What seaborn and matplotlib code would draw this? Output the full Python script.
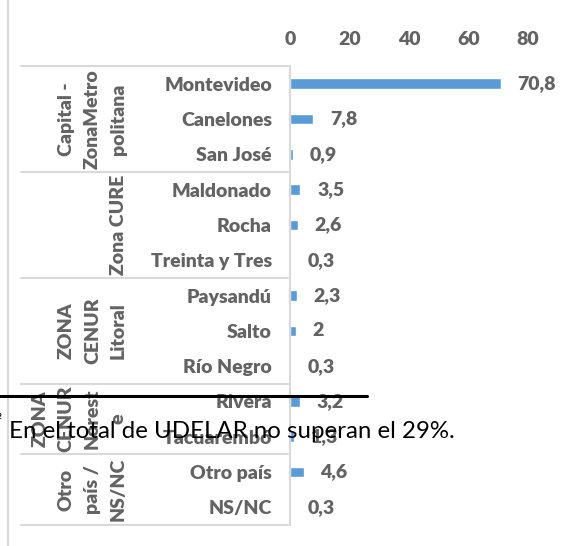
"""
Horizontal bar chart: share of students by department / zone (percent).
Recreated from an Excel chart screenshot with a footnote overlapping it.
"""

# === Imports ===
import matplotlib
matplotlib.use("Agg")
import matplotlib.pyplot as plt
from matplotlib.lines import Line2D
from matplotlib.transforms import blended_transform_factory
import seaborn as sns

# === Data ===
provinces = ["Montevideo", "Canelones", "San José", "Maldonado", "Rocha",
             "Treinta y Tres", "Paysandú", "Salto", "Río Negro", "Rivera",
             "Tacuarembó", "Otro país", "NS/NC"]
values = [70.8, 7.8, 0.9, 3.5, 2.6, 0.3, 2.3, 2, 0.3, 3.2, 1.3, 4.6, 0.3]
value_labels = ["70,8", "7,8", "0,9", "3,5", "2,6", "0,3", "2,3", "2",
                "0,3", "3,2", "1,3", "4,6", "0,3"]
groups = ["Capital -\nZonaMetro\npolitana", "Zona CURE", "ZONA\nCENUR\nLitoral",
          "ZONA\nCENUR\nNorest\ne", "Otro\npaís /\nNS/NC"]
group_sizes = [3, 3, 3, 2, 2]
x_ticks = [0, 20, 40, 60, 80]
footnote = "En el total de UDELAR no superan el 29%."

# === Style ===
sns.set_style("white")
plt.rcParams["font.family"] = ["Lato", "DejaVu Sans"]
gray = "#636363"
line_gray = "#D9D9D9"
bar_blue = "#5B9BD5"
weight = "heavy"
W, H = 567, 546

fig = plt.figure(figsize=(W / 100, H / 100), dpi=100)
ax = fig.add_axes([290 / W, 1 - 525 / H, (528 - 290) / W, (525 - 66) / H])

sns.barplot(x=values, y=provinces, orient="h", color=bar_blue, width=0.3,
            saturation=1, ax=ax)

ax.set_xlim(0, 80)
ax.set_xticks(x_ticks)
ax.xaxis.tick_top()
ax.tick_params(axis="x", length=0, pad=13, labelsize=14, labelcolor=gray)
ax.tick_params(axis="y", length=0, pad=13, labelsize=14, labelcolor=gray)
for lab in ax.get_xticklabels() + ax.get_yticklabels():
    lab.set_fontweight(weight)
ax.set_xlabel("")
ax.set_ylabel("")

for side in ["top", "right", "bottom"]:
    ax.spines[side].set_visible(False)
ax.spines["left"].set_color(line_gray)
ax.spines["left"].set_linewidth(1.5)

# value labels
ax.bar_label(ax.containers[0], labels=value_labels, padding=12,
             fontsize=14, fontweight=weight, color=gray)

# group dividers and group names (x in figure px, y in data)
trans = blended_transform_factory(fig.transFigure, ax.transData)
start = 0
bounds = [-0.5]
for name, size in zip(groups, group_sizes):
    end = start + size
    bounds.append(end - 0.5)
    ax.text(127 / W, (start + end - 1) / 2, name, transform=trans,
            rotation=90, ha="right", va="center", multialignment="center",
            fontsize=14, fontweight=weight, color=gray, linespacing=1.65)
    start = end
for b in bounds:
    ax.add_line(Line2D([21 / W, 288 / W], [b, b], transform=trans,
                       color=line_gray, lw=1.5, clip_on=False))

# left chart border
fig.add_artist(Line2D([8 / W, 8 / W], [0, 1], color=line_gray, lw=1.5))

# overlapping footnote from the source document
fig.add_artist(Line2D([0, 367 / W], [1 - 396 / H, 1 - 396 / H],
                      color="black", lw=2.2, zorder=10))
fig.text(-4 / W, 1 - 422 / H, "²", fontsize=11, color="black", va="center")
fig.text(9 / W, 1 - 432 / H, footnote, fontsize=17.3, color="black",
         va="center", ha="left", zorder=11)

fig.savefig("out.png", dpi=100)
